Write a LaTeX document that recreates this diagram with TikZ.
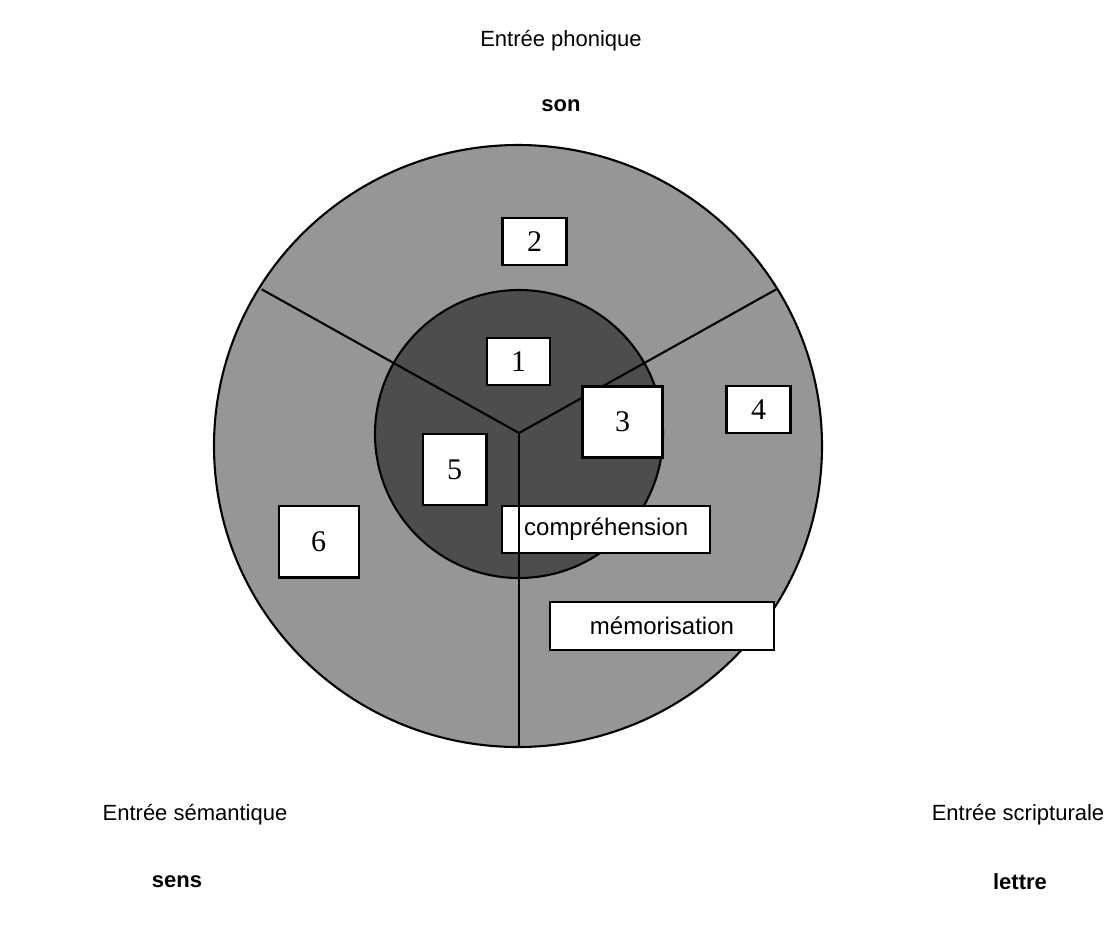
\documentclass[tikz,border=0pt]{standalone}
\usepackage{fontspec}
\setmainfont{Liberation Sans}
\newfontfamily\numfont{Liberation Serif}
\definecolor{outergray}{HTML}{969696}
\definecolor{innergray}{HTML}{4D4D4D}
\begin{document}
\begin{tikzpicture}[x=1pt,y=-1pt,
  lw/.style={line width=2.1pt},
  numbox/.style={draw,lw,fill=white,inner sep=0pt,font=\numfont\fontsize{30}{30}\selectfont},
  wordbox/.style={draw,lw,fill=white,inner sep=0pt,font=\fontsize{24}{24}\selectfont},
  head/.style={font=\fontsize{22}{22}\selectfont,inner sep=0pt},
  headb/.style={font=\bfseries\fontsize{22}{22}\selectfont,inner sep=0pt}]
\useasboundingbox (0,0) rectangle (1111,930);
% outer disc
\draw[lw,fill=outergray] (518,446) ellipse [x radius=304, y radius=301];
% inner disc
\draw[lw,fill=innergray] (519,434) circle [radius=144];
% radial lines
\coordinate (c) at (519,433);
\coordinate (pl) at (261.7,289.3);
\coordinate (pr) at (776.3,289.3);
\coordinate (pb) at (519,747);
\draw[lw] (pl) -- (c) -- (pr);
% boxes
\node[numbox,minimum width=64,minimum height=47] (b2) at (534.5,241.7) {2};
\node[numbox,minimum width=63,minimum height=47] (b1) at (518.5,361.5) {1};
\node[numbox,minimum width=80,minimum height=71] (b3) at (622.5,422) {3};
\node[numbox,minimum width=64,minimum height=47] (b4) at (758.5,409.7) {4};
\node[numbox,minimum width=63.5,minimum height=71] (b5) at (454.7,469.5) {5};
\node[numbox,minimum width=80,minimum height=71.5] (b6) at (318.6,541.7) {6};
\node[wordbox,minimum width=207.6,minimum height=47] (comp) at (606.2,529.5) {compréhension};
\node[wordbox,minimum width=224,minimum height=48] (mem) at (662,626) {mémorisation};
\draw[lw] (c) -- (pb);
% headings
\node[head] (ph) at (561,41) {Entrée phonique};
\node[headb] (son) at (561,106) {son};
\node[head] (se) at (195,815) {Entrée sémantique};
\node[headb] (sens) at (177,882) {sens};
\node[head] (sc) at (1018,815) {Entrée scripturale};
\node[headb] (let) at (1020,882) {lettre};
\end{tikzpicture}
\end{document}
